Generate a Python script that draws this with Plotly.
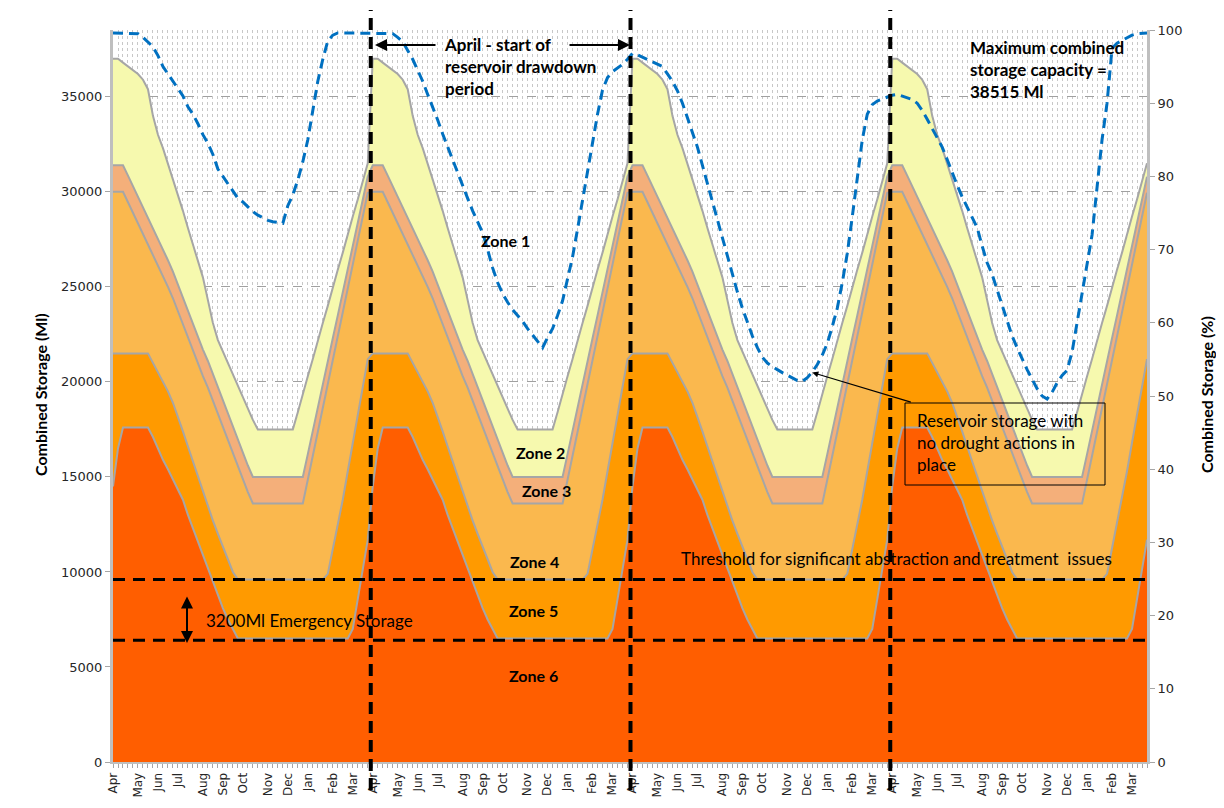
import plotly.graph_objects as go

# ---------------- data ----------------
months = ["Apr", "May", "Jun", "Jul", "Aug", "Sep", "Oct", "Nov", "Dec", "Jan", "Feb", "Mar"]
month_start_week = [0, 5, 9, 13, 18, 22, 26, 31, 35, 39, 44, 48]
weeks_per_year = 52
n_years = 4
max_capacity_ml = 38515
threshold_upper_ml = 9600
threshold_lower_ml = 6400

# zone boundary curves (Ml), one water year (Apr..Mar), repeated each year
zone2_top = [37000, 37000, 36800, 36600, 36400, 36200, 35900, 35400, 34000, 33000,
             32300, 31500, 30700, 29900, 29000, 28100, 27200, 26300, 25500, 24300,
             23100, 22200, 21600, 21000, 20400, 19800, 19200, 18600, 18000, 17500,
             17500, 17500, 17500, 17500, 17500, 17500, 17500, 18400, 19400, 20300,
             21200, 22200, 23100, 24000, 25000, 25900, 26800, 27800, 28700, 29600,
             30600, 31500]
zone3_top = [31400, 31400, 31400, 30850, 30300, 29750, 29200, 28650, 28100, 27550,
             27000, 26400, 25800, 25100, 24400, 23700, 23100, 22400, 21700, 21100,
             20400, 19700, 19000, 18300, 17600, 16900, 16200, 15600, 15000, 15000,
             15000, 15000, 15000, 15000, 15000, 15000, 15000, 15000, 15000, 16200,
             17450, 18650, 19850, 21100, 22300, 23500, 24700, 25950, 27150, 28350,
             29600, 30800]
zone4_top = [30000, 30000, 30000, 29450, 28900, 28350, 27800, 27250, 26700, 26150,
             25600, 25000, 24400, 23700, 23000, 22300, 21700, 21000, 20300, 19700,
             19000, 18300, 17600, 16900, 16200, 15500, 14800, 14200, 13600, 13600,
             13600, 13600, 13600, 13600, 13600, 13600, 13600, 13600, 13600, 14850,
             16100, 17350, 18600, 19850, 21100, 22350, 23600, 24850, 26100, 27350,
             28600, 29950]
zone5_top = [21500, 21500, 21500, 21500, 21500, 21500, 21500, 21500, 21000, 20500,
             20000, 19500, 18900, 18200, 17400, 16600, 15800, 15000, 14200, 13400,
             12700, 12000, 11300, 10600, 10000, 9600, 9600, 9600, 9600, 9600,
             9600, 9600, 9600, 9600, 9600, 9600, 9600, 9600, 9600, 9600,
             9600, 9600, 9600, 9900, 11200, 12500, 13800, 15300, 16800, 18300,
             19750, 21200]
zone6_top = [14500, 16500, 17600, 17600, 17600, 17600, 17600, 17600, 17100, 16500,
             15900, 15400, 14850, 14300, 13800, 13000, 12300, 11600, 10800, 10100,
             9400, 8700, 8100, 7500, 7000, 6500, 6500, 6500, 6500, 6500,
             6500, 6500, 6500, 6500, 6500, 6500, 6500, 6500, 6500, 6500,
             6500, 6500, 6500, 6500, 6500, 6500, 6500, 6500, 7000, 8600,
             10200, 11700]

# reservoir storage with no drought actions (%), weekly, four years
no_action_y1 = [99.6, 99.6, 99.6, 99.6, 99.6, 99.5, 99.0, 98.3, 97.7, 96.5,
                95.0, 94.0, 93.0, 92.0, 91.0, 89.5, 88.5, 87.2, 85.7, 84.5,
                83.0, 81.0, 80.0, 79.0, 77.9, 77.0, 76.5, 75.8, 75.2, 74.7,
                74.3, 74.0, 73.8, 73.7, 73.6, 76.0, 77.5, 79.5, 82.0, 85.0,
                89.0, 93.0, 96.0, 98.5, 99.3, 99.6, 99.6, 99.6, 99.6, 99.6,
                99.6, 99.6]
no_action_y2 = [99.6, 99.6, 99.6, 99.6, 99.5, 99.0, 98.4, 97.2, 96.0, 94.5,
                93.0, 91.2, 89.5, 87.7, 85.8, 84.0, 82.3, 80.5, 78.6, 77.0,
                75.3, 73.8, 72.3, 70.0, 67.5, 65.5, 64.0, 62.8, 61.8, 61.0,
                60.2, 59.2, 58.3, 57.4, 56.6, 58.0, 59.2, 61.0, 63.0, 66.0,
                69.0, 72.8, 76.8, 81.0, 85.0, 88.5, 91.8, 93.5, 94.3, 94.8,
                95.3, 96.0]
no_action_y3 = [96.8, 96.6, 96.3, 96.0, 95.7, 95.3, 95.0, 94.0, 93.0, 91.7,
                90.0, 88.0, 86.0, 84.0, 81.5, 79.0, 76.5, 74.0, 71.5, 69.0,
                66.5, 64.2, 62.0, 60.0, 58.2, 56.6, 55.3, 54.5, 54.0, 53.6,
                53.2, 52.8, 52.4, 52.1, 52.0, 52.5, 53.3, 54.3, 55.6, 57.2,
                59.5, 62.0, 65.5, 69.5, 74.5, 79.5, 85.0, 88.5, 89.8, 90.3,
                90.6, 90.9]
no_action_y4 = [91.1, 91.2, 91.0, 90.8, 90.5, 90.0, 89.0, 87.8, 86.5, 85.4,
                84.0, 82.3, 80.5, 78.8, 77.2, 75.8, 74.4, 73.0, 70.5, 68.2,
                66.6, 64.5, 62.2, 60.2, 58.2, 56.6, 55.0, 53.6, 52.3, 51.0,
                50.0, 49.6, 50.5, 51.8, 52.8, 53.5, 56.0, 60.0, 64.0, 67.5,
                72.0, 78.5, 85.0, 90.0, 97.5, 98.2, 98.6, 99.0, 99.3, 99.5,
                99.6, 99.6]

left_ticks = [0, 5000, 10000, 15000, 20000, 25000, 30000, 35000]
left_ticktext = ["0", "5000", "10000", "15000", "20000", "25000", "30000", "35000"]
right_ticks = [0, 10, 20, 30, 40, 50, 60, 70, 80, 90, 100]

# ---------------- layout helpers (screen pixels) ----------------
W, H = 1224, 808
BODY = 8                      # default page margin around the plot div
PLOT_X0, PLOT_X1 = 113, 1147  # plot area on screen
PLOT_Y0, PLOT_Y1 = 30, 762
PW, PH = PLOT_X1 - PLOT_X0, PLOT_Y1 - PLOT_Y0
L = PLOT_X0 - BODY
T = PLOT_Y0 - BODY
R = W - L - PW
B = H - T - PH


def px(x):
    return (x - PLOT_X0) / PW


def py(y):
    return (PLOT_Y1 - y) / PH


weeks = list(range(weeks_per_year * n_years))
pct = no_action_y1 + no_action_y2 + no_action_y3 + no_action_y4

zones = [
    (zone2_top, "#F6F9AE"),
    (zone3_top, "#F4AF7A"),
    (zone4_top, "#FAB84E"),
    (zone5_top, "#FF9A00"),
    (zone6_top, "#FF5E00"),
]

fig = go.Figure()
for vals, col in zones:
    fig.add_trace(go.Scatter(
        x=weeks, y=vals * n_years, mode="lines", fill="tozeroy",
        fillcolor=col, line=dict(color="#A6A6A6", width=2),
        hoverinfo="skip", showlegend=False))

fig.add_trace(go.Scatter(
    x=weeks, y=pct, yaxis="y2", mode="lines",
    line=dict(color="#0070C0", width=3, dash="10px,6px"),
    hoverinfo="skip", showlegend=False))

tickvals = [yr * weeks_per_year + m for yr in range(n_years) for m in month_start_week]
ticktext = months * n_years

xtickfont = dict(family="DejaVu Sans", size=12, color="#262626")
ytickfont = dict(family="DejaVu Sans", size=13, color="#262626")

fig.update_layout(
    width=W, height=H,
    margin=dict(l=L, r=R, t=T, b=B, autoexpand=False),
    paper_bgcolor="white", plot_bgcolor="white",
    showlegend=False,
    xaxis=dict(
        range=[0, len(weeks) - 1], tickvals=tickvals, ticktext=ticktext,
        tickangle=-90, tickfont=xtickfont, ticks="outside", ticklen=4,
        tickcolor="#A6A6A6", showline=True, linecolor="#BFBFBF", linewidth=2,
        showgrid=True, gridcolor="#C8C8C8", griddash="dot", gridwidth=1,
        zeroline=False, automargin=False,
        minor=dict(dtick=1, tick0=0, ticks="outside", ticklen=4, tickcolor="#A6A6A6",
                   showgrid=True, gridcolor="#C8C8C8", griddash="dot", gridwidth=1),
    ),
    yaxis=dict(
        range=[0, max_capacity_ml], tickvals=left_ticks, ticktext=left_ticktext,
        tickfont=ytickfont, ticks="outside", ticklen=5, tickcolor="#A6A6A6",
        showline=True, linecolor="#BFBFBF", linewidth=3,
        showgrid=True, gridcolor="#A0A0A0", griddash="dash", gridwidth=1,
        zeroline=False, automargin=False,
    ),
    yaxis2=dict(
        range=[0, 100], tickvals=right_ticks, tickfont=ytickfont,
        overlaying="y", side="right", ticks="outside", ticklen=5, tickcolor="#A6A6A6",
        showline=True, linecolor="#BFBFBF", linewidth=3,
        showgrid=False, zeroline=False, automargin=False,
    ),
)

shapes = []
# vertical "April" marker lines
for yr in range(1, n_years):
    xv = yr * weeks_per_year - 0.4
    shapes.append(dict(type="line", xref="x", yref="paper", x0=xv, x1=xv,
                       y0=py(790), y1=py(10),
                       line=dict(color="black", width=4, dash="12px,7px")))
# thresholds
for yv in (threshold_upper_ml, threshold_lower_ml):
    shapes.append(dict(type="line", xref="paper", yref="y", x0=0, x1=1, y0=yv, y1=yv,
                       line=dict(color="black", width=3, dash="12px,8px")))
# annotation box
shapes.append(dict(type="rect", xref="paper", yref="paper",
                   x0=px(905), x1=px(1105), y0=py(485), y1=py(403),
                   line=dict(color="black", width=1)))
fig.update_layout(shapes=shapes)

bold = dict(family="Lato", size=17, color="black")
regular = dict(family="Lato", size=17, color="black")
zonefont = dict(family="Lato", size=16, color="black")
titlefont = dict(family="Lato", size=16, color="black")

ann = []


def text(x, y, s, font, xanchor="center", yanchor="middle", angle=0, align="left"):
    ann.append(dict(xref="paper", yref="paper", x=px(x), y=py(y), text=s,
                    showarrow=False, font=font, xanchor=xanchor, yanchor=yanchor,
                    textangle=angle, align=align))


for label, (x, y) in {"Zone 1": (505, 240), "Zone 2": (540, 453), "Zone 3": (546, 490),
                      "Zone 4": (534, 562), "Zone 5": (533, 610), "Zone 6": (533, 675)}.items():
    text(x, y, "<b>%s</b>" % label, zonefont)

text(442, 32, "<b>April - start of<br>reservoir drawdown<br>period</b>", bold,
     xanchor="left", yanchor="top")
text(968, 35, "<b>Maximum combined<br>storage capacity =<br>38515 Ml</b>", bold,
     xanchor="left", yanchor="top")
text(679, 558, "Threshold for significant abstraction and treatment  issues", regular,
     xanchor="left")
text(204, 620, "3200Ml Emergency Storage", regular, xanchor="left")
text(915, 408, "Reservoir storage with<br>no drought actions in<br>place", regular,
     xanchor="left", yanchor="top")
text(40, 395, "<b>Combined Storage (Ml)</b>", titlefont, angle=-90)
text(1206, 395, "<b>Combined Storage (%)</b>", titlefont, angle=-90)

# arrows
arrow = dict(showarrow=True, arrowhead=2, arrowsize=1.2, arrowwidth=2, arrowcolor="black",
             text="", xref="paper", yref="paper")
ann.append(dict(arrow, x=px(375), y=py(45), ax=62, ay=0))
ann.append(dict(arrow, x=px(630), y=py(45), ax=-62, ay=0))
ann.append(dict(arrow, x=px(187), y=py(643), ax=0, ay=-48, arrowside="end+start"))
ann.append(dict(showarrow=True, arrowhead=2, arrowsize=1, arrowwidth=1.2, arrowcolor="black",
                text="", xref="x", yref="y2", x=140, y=53.2, ax=100, ay=30))

fig.update_layout(annotations=ann)

fig.write_html("out.html")
